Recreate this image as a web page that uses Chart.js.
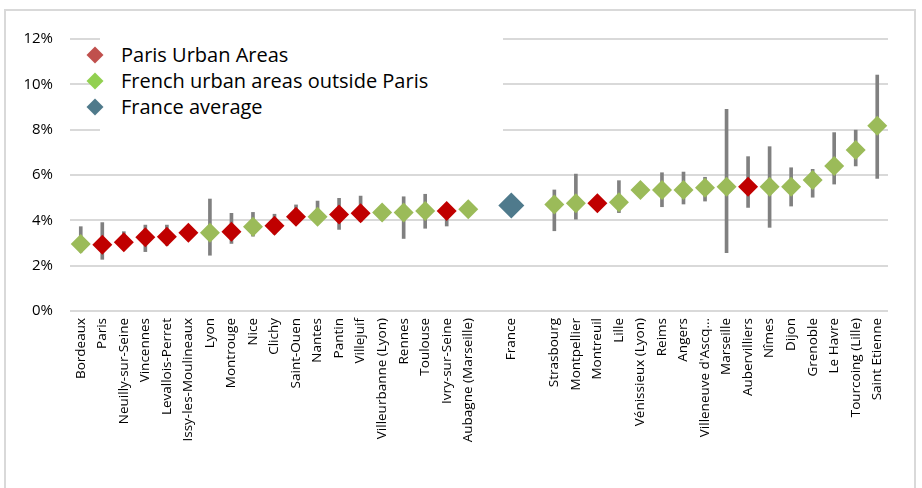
<!DOCTYPE html>
<html>
<head>
<meta charset="utf-8">
<script src="https://cdn.jsdelivr.net/npm/chart.js@4.4.1/dist/chart.umd.min.js"></script>
<style>
  body { margin: 0; background: #fff; font-family: "Open Sans", sans-serif; }
  #wrap { position: relative; width: 922px; height: 488px; overflow: hidden; }
  #frame { position: absolute; left: 4px; top: 9px; width: 908px; height: 500px; border: 2px solid #D9D9D9; }
  #chart { position: absolute; left: 0; top: 0; }
  #legend { position: absolute; left: 100px; top: 30px; width: 403px; height: 106px; padding-top: 12px;
            box-sizing: border-box; background: #fff; }
  .item { position: relative; height: 26px; line-height: 26px; font-size: 20px; color: #000; padding-left: 21px; }
  .mark { position: absolute; left: -11px; top: 7px; width: 12px; height: 12px; transform: rotate(45deg); }
</style>
</head>
<body>
<div id="wrap">
  <div id="frame"></div>
  <canvas id="chart" width="922" height="488"></canvas>
  <div id="legend"></div>
</div>
<script>
'use strict';

// categories along the x axis (blank slots around France)
var categories = ['Bordeaux', 'Paris', 'Neuilly-sur-Seine', 'Vincennes', 'Levallois-Perret', 'Issy-les-Moulineaux',
    'Lyon', 'Montrouge', 'Nice', 'Clichy', 'Saint-Ouen', 'Nantes', 'Pantin', 'Villejuif', 'Villeurbanne (Lyon)',
    'Rennes', 'Toulouse', 'Ivry-sur-Seine', 'Aubagne (Marseille)', '', 'France', '', 'Strasbourg', 'Montpellier',
    'Montreuil', 'Lille', 'Vénissieux (Lyon)', 'Reims', 'Angers', "Villeneuve d'Ascq\u2026", 'Marseille',
    'Aubervilliers', 'Nîmes', 'Dijon', 'Grenoble', 'Le Havre', 'Tourcoing (Lille)', 'Saint Etienne'];

// P = Paris urban areas, G = outside Paris, F = France average
var groups = ['G', 'P', 'P', 'P', 'P', 'P', 'G', 'P', 'G', 'P', 'P', 'G', 'P', 'P', 'G', 'G', 'G', 'P', 'G',
    null, 'F', null, 'G', 'G', 'P', 'G', 'G', 'G', 'G', 'G', 'G', 'P', 'G', 'G', 'G', 'G', 'G', 'G'];

var values = [2.96, 2.92, 3.03, 3.25, 3.28, 3.45, 3.45, 3.5, 3.72, 3.76, 4.16, 4.16, 4.26, 4.31, 4.35, 4.35,
    4.41, 4.41, 4.49, null, 4.65, null, 4.7, 4.75, 4.75, 4.8, 5.34, 5.34, 5.34, 5.44, 5.48, 5.48, 5.48, 5.48,
    5.78, 6.4, 7.1, 8.17];

var highs = [3.72, 3.9, 3.5, 3.79, 3.79, null, 4.94, 4.31, 4.35, 4.27, 4.68, 4.85, 4.97, 5.07, null, 5.04,
    5.15, 4.75, null, null, null, null, 5.34, 6.04, null, 5.75, null, 6.1, 6.13, 5.9, 8.9, 6.81, 7.25, 6.32,
    6.25, 7.87, 7.98, 10.41];

var lows = [2.6, 2.28, 2.7, 2.62, 2.9, null, 2.46, 2.98, 3.3, 3.4, 3.85, 3.85, 3.6, 3.95, null, 3.2,
    3.65, 3.75, null, null, null, null, 3.54, 4.05, null, 4.34, null, 4.6, 4.72, 4.85, 2.57, 4.57, 3.69, 4.63,
    5.02, 5.6, 6.4, 5.85];

var yTicks = [0, 2, 4, 6, 8, 10, 12];

var seriesInfo = [
    { key: 'P', label: 'Paris Urban Areas', color: '#C00000', legendColor: '#C0504D', radius: 10 },
    { key: 'G', label: 'French urban areas outside Paris', color: '#9BBB59', legendColor: '#92D050', radius: 10 },
    { key: 'F', label: 'France average', color: '#4F7A8C', legendColor: '#4F7A8B', radius: 13 }
];

var datasets = seriesInfo.map(function (s) {
    return {
        type: 'line',
        label: s.label,
        data: values.map(function (v, i) { return groups[i] === s.key ? v : null; }),
        showLine: false,
        pointStyle: 'rectRot',
        pointRadius: s.radius,
        pointHoverRadius: s.radius,
        pointBackgroundColor: s.color,
        pointBorderWidth: 0,
        order: 1
    };
});

datasets.push({
    type: 'bar',
    label: 'range',
    data: lows.map(function (l, i) { return l === null ? null : [l, highs[i]]; }),
    backgroundColor: '#808080',
    barThickness: 3,
    order: 2
});

new Chart(document.getElementById('chart'), {
    type: 'bar',
    data: { labels: categories, datasets: datasets },
    options: {
        responsive: false,
        animation: false,
        layout: { padding: { left: 0, right: 34, top: 39, bottom: 0 } },
        plugins: { legend: { display: false }, tooltip: { enabled: false } },
        scales: {
            x: {
                offset: true,
                grid: { display: false, drawTicks: false },
                border: { display: false },
                ticks: {
                    autoSkip: false, minRotation: 90, maxRotation: 90, padding: 7,
                    color: '#000', font: { family: 'Open Sans', size: 13.5 }
                },
                afterFit: function (scale) { scale.height = 177; }
            },
            y: {
                min: 0, max: 12,
                afterBuildTicks: function (scale) {
                    scale.ticks = yTicks.map(function (v) { return { value: v }; });
                },
                grid: { color: '#D9D9D9', lineWidth: 2, drawTicks: false },
                border: { display: false },
                ticks: {
                    padding: 17, color: '#000', font: { family: 'Open Sans', size: 15 },
                    callback: function (v) { return v + '%'; }
                },
                afterFit: function (scale) { scale.width = 70; }
            }
        }
    }
});

// legend drawn as html so it can sit inside the plot like the original
var legend = document.getElementById('legend');
seriesInfo.forEach(function (s) {
    var row = document.createElement('div');
    row.className = 'item';
    var m = document.createElement('span');
    m.className = 'mark';
    m.style.background = s.legendColor;
    row.appendChild(m);
    row.appendChild(document.createTextNode(s.label));
    legend.appendChild(row);
});
</script>
</body>
</html>
